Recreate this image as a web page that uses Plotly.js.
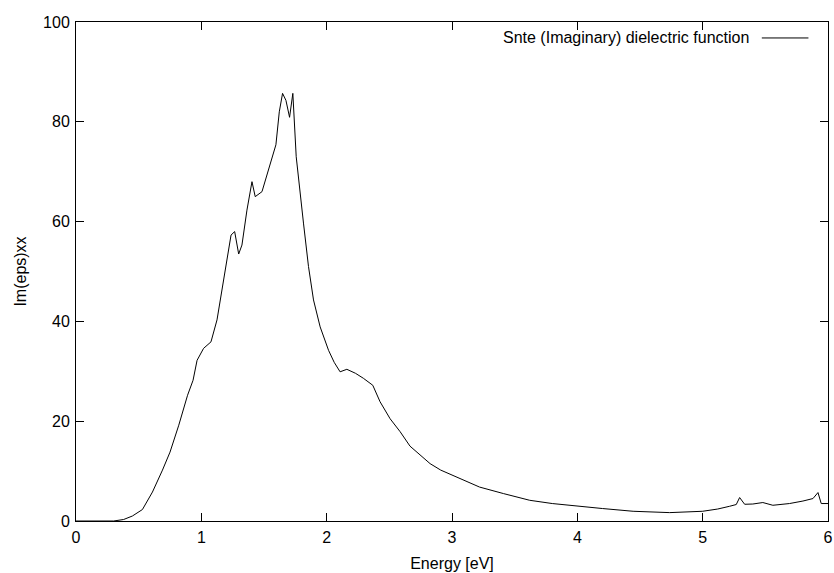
<!DOCTYPE html>
<html>
<head>
<meta charset="utf-8">
<script src="https://cdn.plot.ly/plotly-3.0.1.min.js"></script>
<style>
  html, body { margin: 0; padding: 0; background: #fff; }
  #chart { width: 834px; height: 573px; }
</style>
</head>
<body>
<div id="chart"></div>
<script>
// Photon energy (eV)
const energy = [
  0, 0.3, 0.38, 0.45, 0.53, 0.61, 0.69, 0.75, 0.82, 0.89,
  0.934, 0.966, 1.018, 1.077, 1.125, 1.237, 1.266, 1.298, 1.324, 1.364,
  1.404, 1.430, 1.484, 1.537, 1.595, 1.622, 1.648, 1.675, 1.704, 1.730,
  1.757, 1.815, 1.855, 1.895, 1.948, 2.015, 2.06, 2.107, 2.161, 2.23,
  2.293, 2.368, 2.426, 2.506, 2.586, 2.665, 2.74, 2.825, 2.91, 3.0,
  3.11, 3.22, 3.41, 3.62, 3.8, 4.0, 4.2, 4.445, 4.737, 5.0,
  5.12, 5.215, 5.268, 5.295, 5.335, 5.40, 5.48, 5.56, 5.693, 5.80,
  5.88, 5.92, 5.946, 6.0
];
// Im(eps)xx values
const imEps = [
  0, 0, 0.3, 1.0, 2.3, 5.8, 10.2, 13.8, 19.2, 25.2,
  28.2, 32.2, 34.6, 35.9, 40.3, 57.3, 58.0, 53.5, 55.3, 62.3,
  68.0, 65.0, 66.0, 70.7, 75.4, 82.0, 85.7, 84.3, 80.9, 85.7,
  73.0, 59.7, 51.0, 44.3, 38.9, 34.2, 31.8, 29.9, 30.4, 29.6,
  28.6, 27.2, 23.9, 20.5, 17.9, 15.0, 13.3, 11.5, 10.2, 9.2,
  7.9, 6.8, 5.5, 4.15, 3.5, 2.95, 2.5, 1.95, 1.68, 1.95,
  2.4, 2.95, 3.3, 4.7, 3.35, 3.4, 3.7, 3.15, 3.5, 4.0,
  4.5, 5.7, 3.5, 3.5
];
const xTicks = [0, 1, 2, 3, 4, 5, 6];
const yTicks = [0, 20, 40, 60, 80, 100];
const seriesName = 'Snte (Imaginary) dielectric function';

const font = { family: '"Liberation Sans", Arial, sans-serif', size: 16, color: '#000' };

const trace = {
  x: energy, y: imEps, type: 'scatter', mode: 'lines',
  line: { color: '#000', width: 1 }, name: seriesName, showlegend: false
};

const axisCommon = {
  showgrid: false, zeroline: false, showline: true, linecolor: '#000', linewidth: 1,
  mirror: 'ticks', ticks: 'inside', ticklen: 8, tickwidth: 1, tickcolor: '#000',
  tickfont: font
};

const layout = {
  width: 834, height: 573,
  margin: { l: 76, r: 6, t: 22, b: 52 },
  paper_bgcolor: '#fff', plot_bgcolor: '#fff',
  font: font,
  xaxis: Object.assign({}, axisCommon, {
    range: [0, 6], tickvals: xTicks, ticktext: xTicks.map(String),
    ticklabelstandoff: 2,
    title: { text: 'Energy [eV]', font: font, standoff: 12 }
  }),
  yaxis: Object.assign({}, axisCommon, {
    range: [0, 100], tickvals: yTicks, ticktext: yTicks.map(String),
    ticklabelstandoff: 2,
    title: { text: 'Im(eps)xx', font: font, standoff: 12 }
  }),
  annotations: [{
    xref: 'paper', yref: 'paper', x: 0.897, y: 0.968,
    xanchor: 'right', yanchor: 'middle', showarrow: false,
    text: seriesName, font: font
  }],
  shapes: [{
    type: 'line', xref: 'paper', yref: 'paper',
    x0: 0.912, x1: 0.974, y0: 0.968, y1: 0.968,
    line: { color: '#000', width: 1 }
  }],
  showlegend: false
};

Plotly.newPlot('chart', [trace], layout, { displayModeBar: false, staticPlot: true });
</script>
</body>
</html>
